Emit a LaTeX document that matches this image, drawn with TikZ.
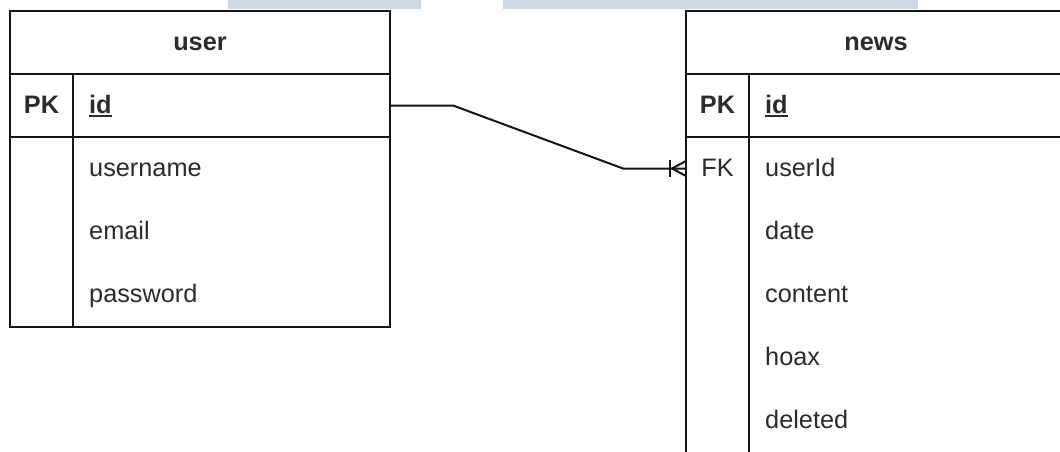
\documentclass[tikz,border=0pt]{standalone}
\usepackage{fontspec}
\setmainfont{Liberation Sans}
\definecolor{linecol}{HTML}{151515}
\definecolor{txtcol}{HTML}{2B2B2B}
\definecolor{bandcol}{HTML}{CDD9E4}
% bold field name with a heavy underline, used for primary keys
\newcommand\pkfield[1]{\setbox0\hbox{\bfseries #1}\rlap{\rule[-3.6pt]{\wd0}{2.2pt}}\box0}
\begin{document}
\begin{tikzpicture}[x=1pt, y=-1pt,
  font=\fontsize{25.3}{30}\selectfont, text=txtcol,
  ln/.style={line width=2.2pt, draw=linecol},
  tablebox/.style={ln, rectangle, inner sep=0pt, outer sep=0pt, anchor=north west, minimum width=380pt},
  rowbox/.style={rectangle, inner sep=0pt, outer sep=0pt, anchor=north west, minimum width=380pt, minimum height=63pt},
  title/.style={anchor=base, inner sep=0pt, font=\fontsize{25.3}{30}\selectfont\bfseries},
  keytxt/.style={anchor=base, inner sep=0pt},
  fieldtxt/.style={anchor=base west, inner sep=0pt},
  crow/.style={ln, line width=2pt}
]
\path[use as bounding box] (0,0) rectangle (1060,451);
\clip (0,0) rectangle (1060,451);

% light band along the top edge
\fill[bandcol] (228,0) rectangle (421,9);
\fill[bandcol] (503,0) rectangle (918,9);

% ---------- table: user ----------
\node[tablebox, minimum height=316pt] (user) at (10,11) {};
\node[rowbox, ln] (user-head) at (10,11) {};
\node[rowbox, ln] (user-pk) at (10,74) {};
\node[rowbox] (user-r1) at (10,137) {};
\node[rowbox] (user-r2) at (10,200) {};
\node[rowbox] (user-r3) at (10,263) {};
\draw[ln] ([xshift=63pt]user-pk.north west) -- ([xshift=63pt]user.south west);

\node[title] (user-title) at ([yshift=-8pt]user-head.center) {user};
\node[keytxt] (user-pk-key) at ([shift={(31.5pt,-8pt)}]user-pk.west) {\textbf{PK}};
\node[fieldtxt] (user-pk-name) at ([shift={(79pt,-8pt)}]user-pk.west) {\pkfield{id}};
\node[fieldtxt] (user-r1-name) at ([shift={(79pt,-8pt)}]user-r1.west) {username};
\node[fieldtxt] (user-r2-name) at ([shift={(79pt,-8pt)}]user-r2.west) {email};
\node[fieldtxt] (user-r3-name) at ([shift={(79pt,-8pt)}]user-r3.west) {password};

% ---------- table: news ----------
\node[tablebox, minimum height=505pt] (news) at (686,11) {};
\node[rowbox, ln] (news-head) at (686,11) {};
\node[rowbox, ln] (news-pk) at (686,74) {};
\node[rowbox] (news-r1) at (686,137) {};
\node[rowbox] (news-r2) at (686,200) {};
\node[rowbox] (news-r3) at (686,263) {};
\node[rowbox] (news-r4) at (686,326) {};
\node[rowbox] (news-r5) at (686,389) {};
\draw[ln] ([xshift=63pt]news-pk.north west) -- ([xshift=63pt]news.south west);

\node[title] (news-title) at ([yshift=-8pt]news-head.center) {news};
\node[keytxt] (news-pk-key) at ([shift={(31.5pt,-8pt)}]news-pk.west) {\textbf{PK}};
\node[fieldtxt] (news-pk-name) at ([shift={(79pt,-8pt)}]news-pk.west) {\pkfield{id}};
\node[keytxt] (news-r1-key) at ([shift={(31.5pt,-8pt)}]news-r1.west) {FK};
\node[fieldtxt] (news-r1-name) at ([shift={(79pt,-8pt)}]news-r1.west) {userId};
\node[fieldtxt] (news-r2-name) at ([shift={(79pt,-8pt)}]news-r2.west) {date};
\node[fieldtxt] (news-r3-name) at ([shift={(79pt,-8pt)}]news-r3.west) {content};
\node[fieldtxt] (news-r4-name) at ([shift={(79pt,-8pt)}]news-r4.west) {hoax};
\node[fieldtxt] (news-r5-name) at ([shift={(79pt,-8pt)}]news-r5.west) {deleted};

% ---------- relation user.id -> news.userId (one to many) ----------
\draw[ln, line width=2pt] (user-pk.east) -- ++(63pt,0pt) -- ([xshift=-63pt]news-r1.west) -- (news-r1.west);
\draw[crow] ([shift={(-16pt,8.5pt)}]news-r1.west) -- ([shift={(-16pt,-8.5pt)}]news-r1.west);
\draw[crow] ([shift={(0pt,7.5pt)}]news-r1.west) -- ([shift={(-14pt,0pt)}]news-r1.west) -- ([shift={(0pt,-7.5pt)}]news-r1.west);
\end{tikzpicture}
\end{document}
